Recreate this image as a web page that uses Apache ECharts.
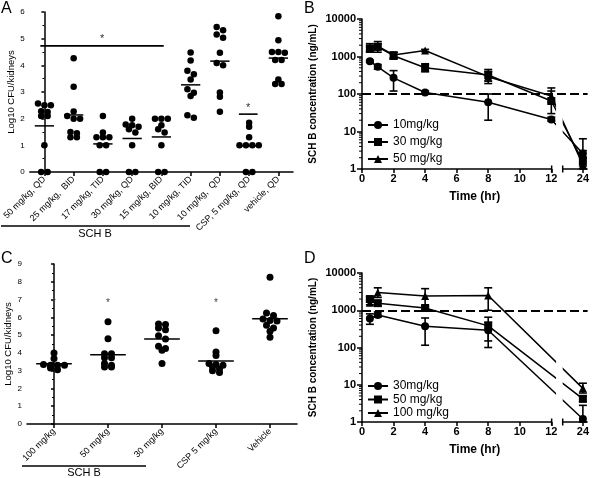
<!DOCTYPE html>
<html><head><meta charset="utf-8">
<script src="https://cdn.jsdelivr.net/npm/echarts@6/dist/echarts.min.js"></script>
<style>html,body{margin:0;padding:0;background:#fff}#c{width:592px;height:478px}</style>
</head><body><div id="c"></div>
<script>
// ---------- Panel A ----------
const catsA = ['50 mg/kg, QD','25 mg/kg,  BID','17 mg/kg, TID','30 mg/kg, QD','15 mg/kg, BID','10 mg/kg, TID','10 mg/kg,  QD','CSP, 5 mg/kg, QD','vehicle, QD'];
const valsA0 = [2.57,2.5,2.5,2.28,2.25,2.1,2.1,1.0,0,0];
const valsA1 = [4.27,3.2,2.27,2.1,2.0,2.0,1.5,1.45,1.3,1.3];
const valsA2 = [2.1,1.48,1.3,1.3,1.3,1.0,1.0,0,0];
const valsA3 = [2.0,1.78,1.75,1.7,1.6,1.48,1.0,0,0];
const valsA4 = [2.0,2.0,2.0,1.75,1.6,1.48,1.0,0,0];
const valsA5 = [4.48,4.18,3.8,3.67,3.47,3.1,2.97,2.85,2.13,2.03];
const valsA6 = [5.44,5.32,5.16,5.03,4.47,4.09,4.0,2.98,2.82,2.26];
const valsA7 = [1.85,1.7,1.3,1.0,1.0,1.0,1.0,0,0];
const valsA8 = [5.84,4.94,4.5,4.5,4.47,4.2,4.2,3.47,3.3,3.3];
const sigA = [[-0.14, 4.08, 4.73], [6.65, 7.29, 2.17]]; // [fromCat, toCat, level]
// ---------- Panel C ----------
const catsC = ['100 mg/kg','50 mg/kg','30 mg/kg','CSP 5 mg/kg','Vehicle'];
const valsC0 = [4.0,3.68,3.35,3.3,3.3,3.3,3.15,3.05];
const valsC1 = [5.75,4.8,3.95,3.95,3.72,3.72,3.4,3.3,3.2,3.2];
const valsC2 = [5.62,5.6,5.4,5.3,4.97,4.78,4.37,4.25,4.15,3.4];
const valsC3 = [5.25,4.05,3.85,3.4,3.35,3.3,3.2,3.1,3.0,2.9];
const valsC4 = [8.25,6.25,6.1,5.9,5.82,5.8,5.55,5.4,5.22,4.88];
const starsC = [[0,7],[1,7],[3,7]];
// ---------- Panel B ----------
const timesB = [0.5,1,2,4,8,12,24];
const b10 = [750,530,270,110,60,21,2.6];
const b10lo = [700,460,120,100,20,19,2.1];
const b10hi = [800,610,420,120,100,24,3.1];
const b30 = [1650,1800,1050,500,320,65,1.6];
const b30lo = [1300,1300,850,390,190,30,1.2];
const b30hi = [2200,2500,1300,640,450,145,2.0];
const b50 = [1600,1900,1100,1450,290,88,1.3];
const b50lo = [1400,1600,900,1350,220,60,1.0];
const b50hi = [1900,2200,1300,1550,400,120,6.4];
const thrB = 100;
// ---------- Panel D ----------
const timesD = [0.5,1,4,8,24];
const d30 = [600,750,370,290,1.2];
const d30lo = [420,650,115,100,1.0];
const d30hi = [800,900,620,480,2.8];
const d50 = [2000,1550,1150,380,4.2];
const d50lo = [1700,1300,1000,150,3.5];
const d50hi = [2300,1800,1300,650,5];
const d100 = [1600,3000,2400,2500,8];
const d100lo = [1400,2200,1200,1000,6];
const d100hi = [1900,4000,3800,4000,11];
const thrD = 1000;

const FONT = '"Liberation Sans", Arial, sans-serif';
const BLK = '#000';
const valsA = [valsA0,valsA1,valsA2,valsA3,valsA4,valsA5,valsA6,valsA7,valsA8];
const valsC = [valsC0,valsC1,valsC2,valsC3,valsC4];

// broken time axis: hours above 12 are shifted left so that 24 h sits just after the break
const BRK = 12, SHIFT = 10;
const bx = t => t > BRK ? t - SHIFT : t;

function swarm(groups, pxPerCat, pxPerUnit, d, thr) {
  const out = [];
  groups.forEach((vals, gi) => {
    const sorted = vals.slice().sort((a,b)=>b-a);
    const rows = [];
    sorted.forEach(v => {
      const r = rows[rows.length-1];
      if (r && Math.abs(r[0]-v)*pxPerUnit < thr) r.push(v); else rows.push([v]);
    });
    rows.forEach(r => r.forEach((v,k) => out.push([gi + (k-(r.length-1)/2)*d/pxPerCat, v])));
  });
  return out;
}
const mean = a => a.reduce((s,v)=>s+v,0)/a.length;

const swarmA = swarm(valsA, 266/9, 160/6, 6.5, 3.5);
const swarmC = swarm(valsC, 270/5, 160/9, 7, 3.5);

function meanSeries(vals, xi, yi, half) {
  return {type:'custom', xAxisIndex:xi, yAxisIndex:yi, z:5,
    data: vals.map((v,i)=>[i, mean(v)]),
    renderItem: (p, api) => {
      const i = api.value(0), m = api.value(1);
      const a = api.coord([i-half, m]), b = api.coord([i+half, m]);
      return {type:'line', shape:{x1:a[0],y1:a[1],x2:b[0],y2:b[1]}, style:{stroke:BLK, lineWidth:1.5}};
    }};
}
function errSeries(times, lo, hi, xi, yi) {
  return {type:'custom', xAxisIndex:xi, yAxisIndex:yi, z:4,
    data: times.map((t,i)=>[bx(t), lo[i], hi[i]]),
    encode:{x:0, y:[1,2]},
    renderItem: (p, api) => {
      const x = api.value(0);
      const a = api.coord([x, api.value(1)]), b = api.coord([x, api.value(2)]);
      const w = 4, st = {stroke:BLK, lineWidth:1.6};
      return {type:'group', children:[
        {type:'line', shape:{x1:a[0],y1:a[1],x2:b[0],y2:b[1]}, style:st},
        {type:'line', shape:{x1:a[0]-w,y1:a[1],x2:a[0]+w,y2:a[1]}, style:st},
        {type:'line', shape:{x1:b[0]-w,y1:b[1],x2:b[0]+w,y2:b[1]}, style:st}]};
    }};
}
function lineSeries(name, times, vals, sym, xi, yi) {
  return {type:'line', name, xAxisIndex:xi, yAxisIndex:yi, z:3,
    data: times.map((t,i)=>[bx(t), vals[i]]), symbol:sym, symbolSize:8,
    lineStyle:{color:BLK, width:1.5}, itemStyle:{color:BLK}};
}
function thresholdSeries(thr, xi, yi) {
  return {type:'line', xAxisIndex:xi, yAxisIndex:yi, z:7, data:[], silent:true,
    markLine:{silent:true, symbol:'none', label:{show:false}, animation:false,
      lineStyle:{color:BLK, width:2, type:[9,4]}, data:[{yAxis:thr}]}};
}
// white band hiding the lines where the time axis is broken, plus the split axis line
function breakSeries(xi, yi) {
  return [
    {type:'custom', xAxisIndex:xi, yAxisIndex:yi, z:3.5, silent:true, data:[[12.3, 12.72]],
      renderItem:(p, api) => {
        const a = api.coord([api.value(0), 10000]), b = api.coord([api.value(1), 1]);
        return {type:'rect', shape:{x:a[0], y:a[1], width:b[0]-a[0], height:b[1]-a[1]}, style:{fill:'#fff'}};
      }},
    {type:'custom', xAxisIndex:xi, yAxisIndex:yi, z:6, silent:true, clip:false,
      data:[[0, 12.02, 0, 1], [12.72, 14.3, 1, 0]],
      renderItem:(p, api) => {
        const a = api.coord([api.value(0), 1]), b = api.coord([api.value(1), 1]);
        const st = {stroke:BLK, lineWidth:1.5};
        const ch = [{type:'line', shape:{x1:a[0]-0.7,y1:a[1],x2:b[0],y2:b[1]}, style:st}];
        if (api.value(2)) ch.push({type:'line', shape:{x1:a[0],y1:a[1]-3.5,x2:a[0],y2:a[1]+3.5}, style:st});
        if (api.value(3)) ch.push({type:'line', shape:{x1:b[0],y1:b[1]-3.5,x2:b[0],y2:b[1]+3.5}, style:st});
        return {type:'group', children:ch};
      }}
  ];
}
const minorLog = [];
[1,10,100,1000].forEach(e => { for (let k=2;k<=9;k++) minorLog.push(k*e); });
function minorTickSeries(xi, yi) {
  return {type:'custom', xAxisIndex:xi, yAxisIndex:yi, silent:true, clip:false, z:6,
    data: minorLog.map(v=>[0, v]),
    renderItem: (p, api) => {
      const a = api.coord([0, api.value(1)]);
      return {type:'line', shape:{x1:a[0]-3,y1:a[1],x2:a[0],y2:a[1]}, style:{stroke:BLK, lineWidth:1}};
    }};
}

const lineSt = {color:BLK, width:1.5};
function catAxis(grid, cats) {
  return {type:'category', gridIndex:grid, data:cats, boundaryGap:true,
    axisLine:{show:true, lineStyle:lineSt},
    axisTick:{show:true, alignWithLabel:true, length:4, lineStyle:lineSt},
    axisLabel:{interval:0, rotate:45, fontSize:9, fontFamily:FONT, color:BLK, margin:6},
    splitLine:{show:false}};
}
function hiddenVal(grid, n) {
  return {type:'value', gridIndex:grid, min:-0.5, max:n-0.5, show:false, splitLine:{show:false}};
}
function linYAxis(grid, max) {
  return {type:'value', gridIndex:grid, min:0, max:max, interval:1,
    name:'Log10 CFU/kidneys', nameLocation:'middle', nameGap:13,
    nameTextStyle:{fontSize:9.5, fontFamily:FONT, color:BLK},
    axisLine:{show:true, lineStyle:lineSt},
    axisTick:{show:true, length:3, lineStyle:lineSt},
    minorTick:{show:true, splitNumber:2, length:2, lineStyle:{color:BLK, width:1}},
    axisLabel:{fontSize:8, fontFamily:FONT, color:BLK, margin:5},
    splitLine:{show:false}};
}
function timeAxis(grid) {
  return {type:'value', gridIndex:grid, min:0, max:14.3, interval:2,
    name:'Time (hr)', nameLocation:'middle', nameGap:22,
    nameTextStyle:{fontSize:12, fontWeight:'bold', fontFamily:FONT, color:BLK},
    axisLine:{show:false},
    axisTick:{show:true, length:4, lineStyle:lineSt},
    axisLabel:{fontSize:11, fontWeight:'bold', fontFamily:FONT, color:BLK, margin:4,
      formatter: v => String(v > BRK ? v + SHIFT : v)},
    splitLine:{show:false}};
}
function logAxis(grid) {
  return {type:'log', gridIndex:grid, logBase:10, min:1, max:10000,
    name:'SCH B concentration (ng/mL)', nameLocation:'middle', nameGap:44,
    nameTextStyle:{fontSize:10, fontWeight:'bold', fontFamily:FONT, color:BLK},
    axisLine:{show:true, lineStyle:lineSt},
    axisTick:{show:true, length:5, lineStyle:lineSt},
    axisLabel:{fontSize:11, fontWeight:'bold', fontFamily:FONT, color:BLK, margin:6,
      formatter: v => String(Math.round(v))},
    splitLine:{show:false}};
}

const option = {
  animation:false,
  backgroundColor:'#fff',
  textStyle:{fontFamily:FONT},
  grid:[
    {left:27, top:12, width:266, height:160},
    {left:362, top:19, width:229, height:150},
    {left:27, top:264, width:270, height:160},
    {left:362, top:273, width:229, height:149}
  ],
  xAxis:[catAxis(0, catsA), hiddenVal(0, 9), timeAxis(1), catAxis(2, catsC), hiddenVal(2, 5), timeAxis(3)],
  yAxis:[linYAxis(0, 6), logAxis(1), linYAxis(2, 9), logAxis(3)],
  legend:[
    {data:['10mg/kg','30 mg/kg','50 mg/kg'], orient:'vertical', left:362, top:114, itemGap:5, itemWidth:20, itemHeight:10,
      textStyle:{fontSize:12, fontFamily:FONT, color:BLK}, selectedMode:false},
    {data:['30mg/kg','50 mg/kg ','100 mg/kg'], orient:'vertical', left:362, top:375, itemGap:1.5, itemWidth:20, itemHeight:10,
      textStyle:{fontSize:12, fontFamily:FONT, color:BLK}, selectedMode:false}
  ],
  series:[
    {type:'scatter', xAxisIndex:1, yAxisIndex:0, data:swarmA, symbolSize:6.5, itemStyle:{color:BLK, opacity:1}, z:4},
    meanSeries(valsA, 1, 0, 0.33),
    {type:'custom', xAxisIndex:1, yAxisIndex:0, data:sigA, z:5,
      renderItem:(p, api) => {
        const a = api.coord([api.value(0), api.value(2)]), b = api.coord([api.value(1), api.value(2)]);
        return {type:'group', children:[
          {type:'line', shape:{x1:a[0],y1:a[1],x2:b[0],y2:b[1]}, style:{stroke:BLK, lineWidth:1.6}},
          {type:'text', style:{text:'*', x:(a[0]+b[0])/2, y:a[1]-1, align:'center', verticalAlign:'bottom', fontSize:11, fill:'#333', fontFamily:FONT}}]};
      }},
    {type:'scatter', xAxisIndex:4, yAxisIndex:2, data:swarmC, symbolSize:7, itemStyle:{color:BLK, opacity:1}, z:4},
    meanSeries(valsC, 4, 2, 0.33),
    {type:'custom', xAxisIndex:4, yAxisIndex:2, data:starsC, z:5,
      renderItem:(p, api) => {
        const a = api.coord([api.value(0), api.value(1)]);
        return {type:'text', style:{text:'*', x:a[0], y:a[1]+4, align:'center', verticalAlign:'middle', fontSize:10, fill:'#444', fontFamily:FONT}};
      }},
    lineSeries('10mg/kg', timesB, b10, 'circle', 2, 1),
    lineSeries('30 mg/kg', timesB, b30, 'rect', 2, 1),
    lineSeries('50 mg/kg', timesB, b50, 'triangle', 2, 1),
    errSeries(timesB, b10lo, b10hi, 2, 1),
    errSeries(timesB, b30lo, b30hi, 2, 1),
    errSeries(timesB, b50lo, b50hi, 2, 1),
    thresholdSeries(thrB, 2, 1),
    ...breakSeries(2, 1),
    minorTickSeries(2, 1),
    lineSeries('30mg/kg', timesD, d30, 'circle', 5, 3),
    lineSeries('50 mg/kg ', timesD, d50, 'rect', 5, 3),
    lineSeries('100 mg/kg', timesD, d100, 'triangle', 5, 3),
    errSeries(timesD, d30lo, d30hi, 5, 3),
    errSeries(timesD, d50lo, d50hi, 5, 3),
    errSeries(timesD, d100lo, d100hi, 5, 3),
    thresholdSeries(thrD, 5, 3),
    ...breakSeries(5, 3),
    minorTickSeries(5, 3)
  ],
  graphic:[
    {type:'text', left:1, top:1, style:{text:'A', fontSize:16, fontFamily:FONT, fill:BLK}},
    {type:'text', left:304, top:1, style:{text:'B', fontSize:16, fontFamily:FONT, fill:BLK}},
    {type:'text', left:1, top:251, style:{text:'C', fontSize:16, fontFamily:FONT, fill:BLK}},
    {type:'text', left:304, top:251, style:{text:'D', fontSize:16, fontFamily:FONT, fill:BLK}},
    {type:'line', shape:{x1:1, y1:226, x2:190, y2:226}, style:{stroke:BLK, lineWidth:1.5}},
    {type:'text', x:95, y:234, style:{text:'SCH B', fontSize:11, fontFamily:FONT, fill:BLK, align:'center', verticalAlign:'middle'}},
    {type:'line', shape:{x1:22, y1:466, x2:146, y2:466}, style:{stroke:BLK, lineWidth:1.5}},
    {type:'text', x:84, y:473, style:{text:'SCH B', fontSize:11, fontFamily:FONT, fill:BLK, align:'center', verticalAlign:'middle'}}
  ]
};
const chart = echarts.init(document.getElementById('c'));
chart.setOption(option);
</script></body></html>
